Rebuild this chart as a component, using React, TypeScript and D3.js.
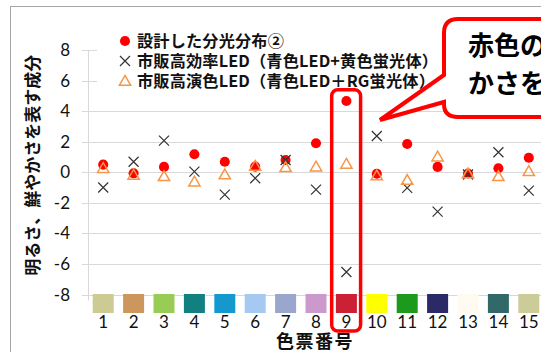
import React from "react";
import * as d3 from "d3";

const categories = ["1","2","3","4","5","6","7","8","9","10","11","12","13","14","15"];
const designed = [0.5, -0.07, 0.35, 1.18, 0.69, 0.37, 0.8, 1.9, 4.66, -0.1, 1.85, 0.35, -0.08, 0.26, 0.95];
const highEff = [-1.0, 0.69, 2.07, 0.04, -1.46, -0.39, 0.8, -1.14, -6.53, 2.37, -1.02, -2.58, -0.15, 1.31, -1.2];
const highCri = [0.2, -0.24, -0.33, -0.68, -0.22, 0.35, 0.26, 0.3, 0.48, -0.28, -0.58, 0.95, -0.15, -0.33, 0.0];
const chipColors = ["#cbcb93","#cc965c","#99cc55","#127f80","#1499cf","#a6c9f2","#9aa6cc","#cc99cc","#cc2035","#ffff00","#1c9a1c","#2b2a66","#fffbf0","#336868","#cccc99"];
const yTicks = [8, 6, 4, 2, 0, -2, -4, -6, -8];
const legendLabels = ["設計した分光分布②", "市販高効率LED（青色LED+黄色蛍光体）", "市販高演色LED（青色LED＋RG蛍光体）"];
const yTitle = "明るさ、鮮やかさを表す成分";
const xTitle = "色票番号";
const calloutLines = ["赤色の", "かさを"];

const JP = "'Noto Sans CJK JP', sans-serif";
const NUM = "Lato, 'Noto Sans', sans-serif";

export default function App() {
  const x = d3.scaleBand<string>().domain(categories).range([88, 88 + 15 * 30.4]).padding(0);
  const y = d3.scaleLinear().domain([-8, 8]).range([294.5, 50]);
  const cx = (c: string) => (x(c) as number) + x.bandwidth() / 2;
  const tri = d3.symbol().type(d3.symbolTriangle).size(55)();
  const circ = d3.symbol().type(d3.symbolCircle).size(80)();
  const cross = (px: number, py: number, s = 5) =>
    `M${px - s},${py - s}L${px + s},${py + s}M${px - s},${py + s}L${px + s},${py - s}`;

  const bx = x("9") as number;

  return (
    <svg width={541} height={352} style={{ position: "absolute", left: 0, top: 0, background: "#fff" }}>
      <rect x={10.5} y={6.5} width={700} height={500} fill="#fff" stroke="#a6a6a6" strokeWidth={1} />
      {yTicks.map((t) => (
        <line key={t} x1={82} x2={560} y1={Math.round(y(t)) + 0.5} y2={Math.round(y(t)) + 0.5} stroke="#d9d9d9" strokeWidth={1} />
      ))}
      <line x1={88.5} x2={88.5} y1={y(8)} y2={y(-8) + 6} stroke="#d9d9d9" strokeWidth={1} />
      {yTicks.map((t) => (
        <text key={"l" + t} x={70} y={y(t)} dy="0.36em" textAnchor="end" fontFamily={NUM} fontSize={17} fill="#111">
          {t}
        </text>
      ))}
      <text transform={`translate(33,${(y(8) + y(-8)) / 2 - 7}) rotate(-90)`} textAnchor="middle" dy="0.36em" fontFamily={JP} fontWeight="bold" fontSize={17} fill="#111">
        {yTitle}
      </text>
      {categories.map((c, i) => (
        <rect key={"c" + c} x={cx(c) - 10.5} y={294} width={21} height={19} fill={chipColors[i]} />
      ))}
      {categories.map((c) => (
        <text key={"x" + c} x={cx(c)} y={322} dy="0.36em" textAnchor="middle" fontFamily={NUM} fontSize={17} fill="#111">
          {c}
        </text>
      ))}
      <text x={315} y={342} dy="0.36em" textAnchor="middle" fontFamily={JP} fontWeight="bold" fontSize={18} letterSpacing={1.5} fill="#111">
        {xTitle}
      </text>
      <rect x={97} y={30} width={346} height={64} fill="#fff" />
      <path d={circ} transform="translate(125,41)" fill="#ff0000" />
      <path d={cross(125, 61)} stroke="#333" strokeWidth={1.2} fill="none" />
      <path d={tri} transform="translate(125,82)" fill="none" stroke="#f79646" strokeWidth={1.5} />
      {legendLabels.map((l, i) => (
        <text key={l} x={137} y={41 + i * 20} dy="0.36em" fontFamily={JP} fontWeight="bold" fontSize={16.2} letterSpacing={0.15} fill="#111">
          {l}
        </text>
      ))}
      {categories.map((c, i) => (
        <path key={"d" + c} d={circ} transform={`translate(${cx(c)},${y(designed[i])})`} fill="#ff0000" />
      ))}
      {categories.map((c, i) => (
        <path key={"e" + c} d={cross(cx(c), y(highEff[i]))} stroke="#333" strokeWidth={1.2} fill="none" />
      ))}
      {categories.map((c, i) => (
        <path key={"r" + c} d={tri} transform={`translate(${cx(c)},${y(highCri[i])})`} fill="none" stroke="#f79646" strokeWidth={1.5} />
      ))}
      <rect x={bx + 0.5} y={y(5.4)} width={x.bandwidth() - 1.5} height={331 - y(5.4)} rx={6} fill="none" stroke="#ff0000" strokeWidth={3.5} />
      <path d="M444,75 L380,120 L444,102 L444,104 Q444,117 458,117 L620,117 L620,19 L458,19 Q444,19 444,33 Z" fill="#fff" stroke="#ff0000" strokeWidth={4} strokeLinejoin="miter" />
      {calloutLines.map((t, i) => (
        <text key={t} x={468} y={46 + i * 38} dy="0.36em" fontFamily={JP} fontWeight="bold" fontSize={26} fill="#000">
          {t}
        </text>
      ))}
    </svg>
  );
}
